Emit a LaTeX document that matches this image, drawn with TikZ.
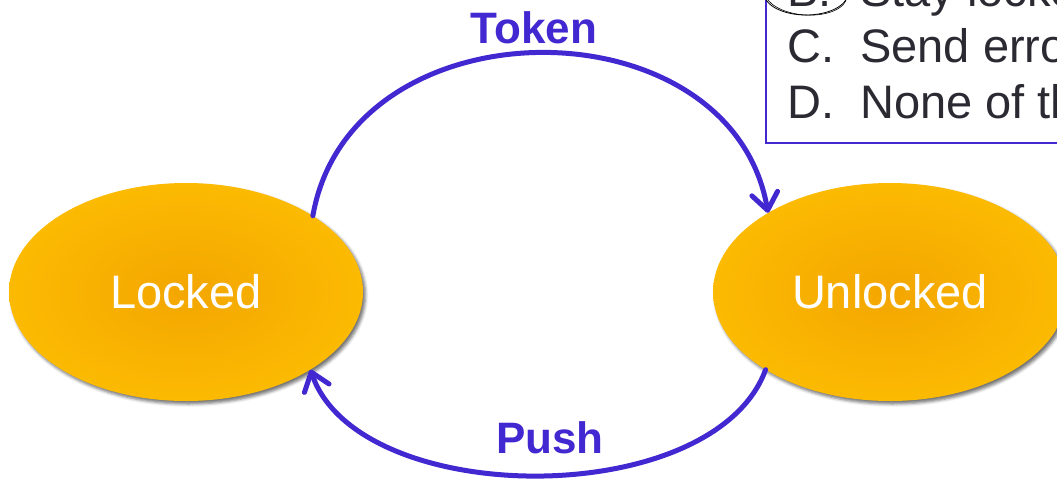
\documentclass[tikz,border=0pt]{standalone}
\usepackage{fontspec}
\setmainfont{Liberation Sans}
\usetikzlibrary{shapes.geometric,arrows.meta,shadows.blur}

\definecolor{edgeblue}{RGB}{66,40,208}
\definecolor{stateinner}{RGB}{243,166,0}
\definecolor{stateouter}{RGB}{252,186,2}
\definecolor{quiztext}{RGB}{43,42,51}

\tikzset{
  state/.style={ellipse, inner sep=0pt, minimum width=354pt, minimum height=218pt,
    inner color=stateinner, outer color=stateouter,
    blur shadow={shadow xshift=2.5pt, shadow yshift=-3pt, shadow blur radius=3pt, shadow opacity=55},
    text=white, font=\fontsize{47}{56}\selectfont},
  transition/.style={draw=edgeblue, line width=5pt, line cap=round,
    -{Straight Barb[length=17pt, width=26pt, line cap=round, line join=round]}},
  edgelabel/.style={text=edgeblue, font=\bfseries\fontsize{44}{52}\selectfont, anchor=base, inner sep=0pt},
  quizline/.style={text=quiztext, font=\fontsize{47}{56}\selectfont, anchor=base west, inner sep=0pt},
}

\begin{document}
\begin{tikzpicture}[x=1pt, y=-1pt]
  \useasboundingbox (0,0) rectangle (1057,482);
  \clip (0,0) rectangle (1057,482);

  % answer panel
  \draw[edgeblue, line width=1.5pt] (766,-20) rectangle (1080,143);
  \node[quizline] (qb) at (787,6) {\makebox[73pt][l]{B.}Stay locked};
  \node[quizline] (qc) at (787,62) {\makebox[73pt][l]{C.}Send error};
  \node[quizline] (qd) at (787,118) {\makebox[73pt][l]{D.}None of the above};
  % pen mark around the chosen answer
  \draw[black, line width=0.8pt] (806,-7) ellipse [x radius=42, y radius=22];
  \draw[black, line width=0.6pt, rotate around={-4:(806,-7)}] (806,-6) ellipse [x radius=41, y radius=21];

  % states
  \node[state] (locked) at (186,292) {Locked};
  \node[state] (unlocked) at (890,292) {Unlocked};

  % transitions
  \draw[transition] (locked.31) .. controls +(38,-217) and +(-37,-213) .. (unlocked.147);
  \draw[transition] (unlocked.212) .. controls +(-52,142) and +(48,140) .. (locked.328);

  \node[edgelabel] (token) at (534,43) {Token};
  \node[edgelabel] (push) at (550,453) {Push};
\end{tikzpicture}
\end{document}
